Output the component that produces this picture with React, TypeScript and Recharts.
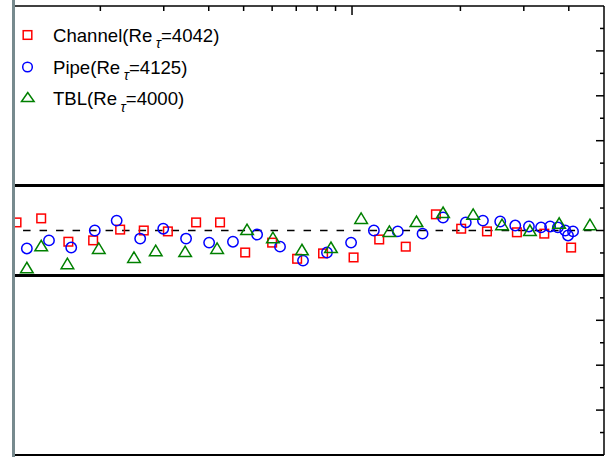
import React from 'react'
import { ScatterChart, Scatter, XAxis, YAxis, ReferenceLine, Legend } from 'recharts'

// x positions (log axis) and normalised values
const channelX = [11.7, 13.7, 16.3, 19.1, 22.7, 26.4, 30.8, 36.9, 43.0, 50.5, 60.0, 70.4, 83.1, 101, 119, 141, 171, 201, 237, 287, 342, 406]
const channelY = [1.018, 1.027, 0.975, 0.978, 1.002, 1.0, 0.998, 1.018, 1.018, 0.951, 0.973, 0.937, 0.949, 0.94, 0.98, 0.964, 1.036, 1.004, 0.998, 0.996, 0.993, 0.962]

const pipeX = [12.5, 14.4, 16.6, 19.3, 22.2, 25.8, 29.9, 34.6, 40.1, 46.7, 54.5, 63.1, 73.1, 85.2, 99.4, 115, 134, 157, 179, 207, 231, 258, 284, 310, 335, 355, 373, 391, 398, 411]
const pipeY = [0.96, 0.978, 0.962, 1.0, 1.022, 0.982, 1.004, 0.982, 0.973, 0.975, 0.991, 0.964, 0.933, 0.951, 0.973, 1.0, 0.998, 0.993, 1.029, 1.018, 1.022, 1.02, 1.011, 1.009, 1.007, 1.009, 1.007, 1.0, 0.989, 0.998]

const tblX = [12.5, 13.7, 16.2, 19.8, 24.8, 28.5, 34.4, 42.2, 51.1, 60.3, 72.6, 87.4, 106, 127, 151, 179, 217, 261, 312, 376, 458]
const tblY = [0.917, 0.966, 0.926, 0.96, 0.94, 0.955, 0.953, 0.96, 1.002, 0.984, 0.957, 0.962, 1.027, 0.998, 1.02, 1.04, 1.036, 1.013, 1.0, 1.016, 1.013]

const xTicks = [20, 30, 40, 50, 60, 70, 80, 90, 100, 200, 300, 400]
const yTicks = [0.55, 0.6, 0.65, 0.7, 0.75, 0.8, 0.85, 0.9, 0.95, 1.0, 1.05, 1.1, 1.15, 1.2, 1.25, 1.3, 1.35, 1.4, 1.45]

const legendLabels = [
  { name: 'Channel(Re', re: '=4042)' },
  { name: 'Pipe(Re', re: '=4125)' },
  { name: 'TBL(Re', re: '=4000)' },
]

const toRows = (xs: number[], ys: number[]) => xs.map((x, i) => ({ x, y: ys[i] }))
const channelData = toRows(channelX, channelY)
const pipeData = toRows(pipeX, pipeY)
const tblData = toRows(tblX, tblY)

const red = '#ff0000'
const blue = '#0000ff'
const green = '#008000'
const font = 'Liberation Sans, Arial, sans-serif'

const SquareMark = (p: any) => (
  <rect x={p.cx - 4.3} y={p.cy - 4.3} width={8.6} height={8.6} fill="none" stroke={red} strokeWidth={1.5} />
)
const CircleMark = (p: any) => (
  <circle cx={p.cx} cy={p.cy} r={5.2} fill="none" stroke={blue} strokeWidth={1.5} />
)
const TriMark = (p: any) => (
  <polygon
    points={`${p.cx},${p.cy - 5.5} ${p.cx - 6.3},${p.cy + 5} ${p.cx + 6.3},${p.cy + 5}`}
    fill="none"
    stroke={green}
    strokeWidth={1.5}
  />
)

const TopTick = (p: any) => {
  const len = p.payload.value === 100 ? 9 : 5
  return <line x1={p.x} x2={p.x} y1={p.y} y2={p.y + len} stroke="#000" strokeWidth={1.5} />
}

const RightTick = (p: any) => {
  const major = Math.round(p.payload.value * 100) % 10 === 0
  const len = major ? 8 : 4
  return <line x1={p.x - len} x2={p.x} y1={p.y} y2={p.y} stroke="#000" strokeWidth={1.5} />
}

function LegendBox() {
  const rows = [35, 67, 98.5]
  return (
    <svg width={240} height={120} style={{ display: 'block' }}>
      <rect x={23.2} y={rows[0] - 4.3} width={8.6} height={8.6} fill="none" stroke={red} strokeWidth={1.5} />
      <circle cx={27.5} cy={rows[1]} r={4.8} fill="none" stroke={blue} strokeWidth={1.5} />
      <polygon
        points={`27.8,${rows[2] - 6} 21.5,${rows[2] + 3} 34.1,${rows[2] + 3}`}
        fill="none"
        stroke={green}
        strokeWidth={1.5}
      />
      {legendLabels.map((l, i) => (
        <text key={l.name} x={53} y={rows[i] + 6.5} fontSize={18.6} fontFamily={font} fill="#000">
          {l.name}
          <tspan dx={3.5} dy={6.5} fontSize={14} fontStyle="italic">τ</tspan>
          <tspan dx={0} dy={-6.5}>{l.re}</tspan>
        </text>
      ))}
    </svg>
  )
}

export default function App() {
  return (
    <div style={{ position: 'absolute', left: 0, top: 0, width: 609, height: 457, background: '#fff' }}>
      <ScatterChart width={609} height={457} margin={{ top: 5, right: 4, bottom: 2, left: 13 }}>
        <XAxis
          dataKey="x"
          type="number"
          scale="log"
          orientation="top"
          domain={[11.44, 501]}
          allowDataOverflow
          ticks={xTicks}
          interval={0}
          height={1}
          tickSize={0}
          tickMargin={0}
          tickLine={false}
          tick={TopTick}
          axisLine={{ stroke: '#000', strokeWidth: 1.5 }}
        />
        <YAxis
          dataKey="y"
          type="number"
          orientation="right"
          domain={[0.5, 1.5]}
          allowDataOverflow
          ticks={yTicks}
          interval={0}
          width={1}
          tickSize={0}
          tickMargin={0}
          tickLine={false}
          tick={RightTick}
          axisLine={{ stroke: '#000', strokeWidth: 1.5 }}
        />
        <ReferenceLine y={0.5} stroke="#000" strokeWidth={2} />
        <ReferenceLine y={1.1} stroke="#000" strokeWidth={3} />
        <ReferenceLine y={0.9} stroke="#000" strokeWidth={3} />
        <ReferenceLine
          segment={[{ x: 12.2, y: 1 }, { x: 476, y: 1 }]}
          stroke="#000"
          strokeWidth={1.6}
          strokeDasharray="7.5 9"
        />
        <Scatter name="Channel" data={channelData} shape={SquareMark} isAnimationActive={false} />
        <Scatter name="Pipe" data={pipeData} shape={CircleMark} isAnimationActive={false} />
        <Scatter name="TBL" data={tblData} shape={TriMark} isAnimationActive={false} />
        <Legend
          layout="vertical"
          align="center"
          verticalAlign="middle"
          content={() => <LegendBox />}
          wrapperStyle={{ left: 0, top: 0, width: 240, height: 120 }}
        />
      </ScatterChart>
      <div
        style={{ position: 'absolute', left: 12, top: 0, width: 3, height: 457, background: '#778a8e', pointerEvents: 'none' }}
      />
    </div>
  )
}
